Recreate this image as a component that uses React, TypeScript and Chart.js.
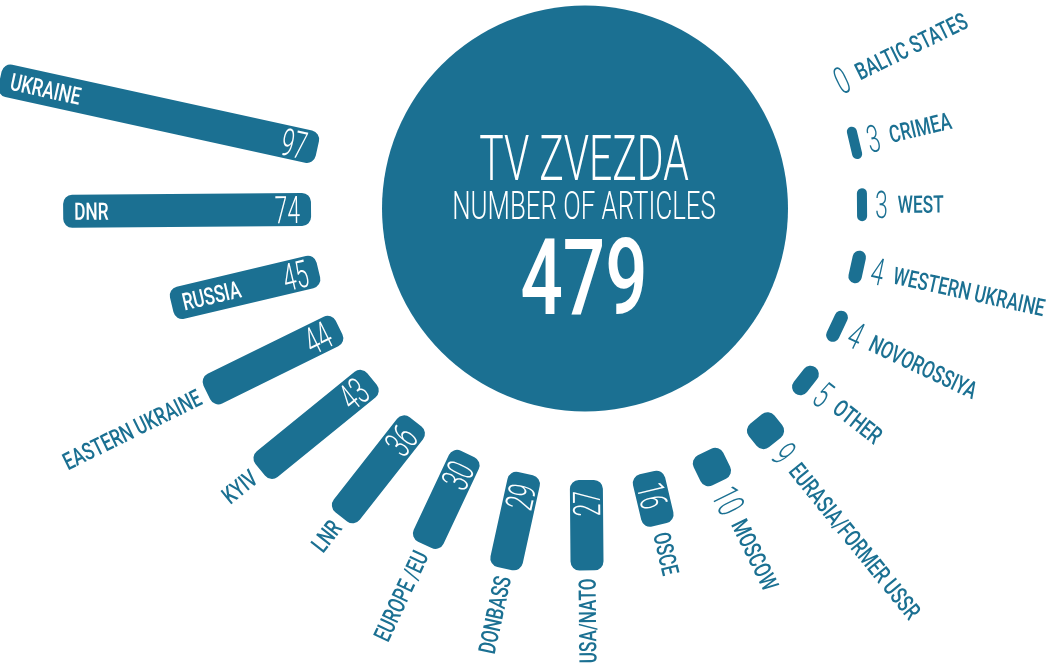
import { useEffect, useRef } from 'react';
import { Chart, registerables } from 'chart.js';

Chart.register(...registerables);

// Categories in clockwise order, starting at the top right of the picture
const categories = [
  'BALTIC STATES',
  'CRIMEA',
  'WEST',
  'WESTERN UKRAINE',
  'NOVOROSSIYA',
  'OTHER',
  'EURASIA/FORMER USSR',
  'MOSCOW',
  'OSCE',
  'USA/NATO',
  'DONBASS',
  'EUROPE /EU',
  'LNR',
  'KYIV',
  'EASTERN UKRAINE',
  'RUSSIA',
  'DNR',
  'UKRAINE',
];
const articleCounts = [0, 3, 3, 4, 4, 5, 9, 10, 16, 27, 29, 30, 36, 43, 44, 45, 74, 97];
const emptySlots = 10; // the open gap above the circle
const centerTitle = 'TV ZVEZDA';
const centerSubtitle = 'NUMBER OF ARTICLES';
const totalArticles = 479;
const labelInsideMin = 45; // bars this long carry their name inside

// radial value axis: value 0 sits on the inner ring of bars
const axisMin = -81.5;
const axisMax = 103.6;
const startAngleDeg = 63.8;

// styles
const TEAL = '#1b7092';
const WHITE = '#ffffff';
const CANVAS_SIZE = 1240;
const CENTER_X = 584;
const CENTER_Y = 207;
const BAR_THICKNESS = 33;
const CORNER = 9;
const CIRCLE_RADIUS = 203;
const CIRCLE_DX = 1;
const CIRCLE_DY = 1.5;
const TEXT_DX = 0;
const PAD = 11;
const GAP = 8;
const NUM_GAP = 10;
const FAMILY = 'Roboto, "DejaVu Sans", sans-serif';

type FontSpec = { size: number; weight: number; stretch: number };
const numFont: FontSpec = { size: 38, weight: 300, stretch: 0.6 };
const labelFont: FontSpec = { size: 24, weight: 500, stretch: 0.72 };
const titleFont: FontSpec = { size: 63, weight: 300, stretch: 0.65 };
const subtitleFont: FontSpec = { size: 38, weight: 300, stretch: 0.68 };
const totalFont: FontSpec = { size: 105, weight: 500, stretch: 0.71 };

const CAP = 0.711;

function textWidth(ctx: CanvasRenderingContext2D, text: string, f: FontSpec) {
  ctx.save();
  ctx.font = `${f.weight} ${f.size}px ${FAMILY}`;
  const w = ctx.measureText(text).width * f.stretch;
  ctx.restore();
  return w;
}

function drawText(
  ctx: CanvasRenderingContext2D,
  text: string,
  x: number,
  f: FontSpec,
  align: CanvasTextAlign,
  color: string,
  baselineY?: number
) {
  ctx.save();
  const y = baselineY === undefined ? (f.size * CAP) / 2 : baselineY;
  ctx.translate(x, y);
  ctx.scale(f.stretch, 1);
  ctx.font = `${f.weight} ${f.size}px ${FAMILY}`;
  ctx.textAlign = align;
  ctx.textBaseline = 'alphabetic';
  ctx.fillStyle = color;
  ctx.fillText(text, 0, 0);
  ctx.restore();
}

const radialBars = {
  id: 'radialBars',
  afterDatasetsDraw(chart: any) {
    const ctx: CanvasRenderingContext2D = chart.ctx;
    const scale = chart.scales.r;
    const cx = scale.xCenter;
    const cy = scale.yCenter;
    const base = scale.getDistanceFromCenterForValue(0);

    ctx.save();
    // central disc
    ctx.fillStyle = TEAL;
    ctx.beginPath();
    ctx.arc(cx + CIRCLE_DX, cy + CIRCLE_DY, CIRCLE_RADIUS, 0, Math.PI * 2);
    ctx.fill();
    ctx.translate(cx + TEXT_DX, cy);
    drawText(ctx, centerTitle, 0, titleFont, 'center', WHITE, -27);
    drawText(ctx, centerSubtitle, 0, subtitleFont, 'center', WHITE, 12);
    drawText(ctx, String(totalArticles), 0, totalFont, 'center', WHITE, 107);
    ctx.restore();

    const labels: string[] = chart.data.labels;
    const data: (number | null)[] = chart.data.datasets[0].data;
    data.forEach((v, i) => {
      if (v === null || v === undefined) return;
      const end = scale.getDistanceFromCenterForValue(v);
      const pos = scale.getPointPosition(i, base);
      const angle = pos.angle;
      const len = end - base;
      const label = labels[i];
      const num = String(v);

      ctx.save();
      ctx.translate(cx, cy);
      ctx.rotate(angle);
      ctx.fillStyle = TEAL;
      if (len > 0) {
        ctx.beginPath();
        ctx.roundRect(base, -BAR_THICKNESS / 2, len, BAR_THICKNESS, Math.min(CORNER, len / 2));
        ctx.fill();
      }
      const numW = textWidth(ctx, num, numFont);
      const numInside = numW + 2 * PAD <= len;
      const labelInside = numInside && v >= labelInsideMin;
      // bars pointing (nearly) straight down or to the left read toward the centre
      const flip = Math.cos(angle) < 0.1;

      if (!flip) {
        if (numInside) {
          drawText(ctx, num, base + PAD, numFont, 'left', WHITE);
          if (labelInside) drawText(ctx, label, end - PAD, labelFont, 'right', WHITE);
          else drawText(ctx, label, end + GAP, labelFont, 'left', TEAL);
        } else {
          drawText(ctx, num, end + GAP, numFont, 'left', TEAL);
          drawText(ctx, label, end + GAP + numW + NUM_GAP, labelFont, 'left', TEAL);
        }
      } else {
        ctx.rotate(Math.PI);
        if (numInside) {
          drawText(ctx, num, -(base + PAD), numFont, 'right', WHITE);
          if (labelInside) drawText(ctx, label, -(end - PAD), labelFont, 'left', WHITE);
          else drawText(ctx, label, -(end + GAP), labelFont, 'right', TEAL);
        } else {
          drawText(ctx, num, -(end + GAP), numFont, 'right', TEAL);
          drawText(ctx, label, -(end + GAP + numW + NUM_GAP), labelFont, 'right', TEAL);
        }
      }
      ctx.restore();
    });
  },
};

export default function App() {
  const canvasRef = useRef<HTMLCanvasElement | null>(null);

  useEffect(() => {
    const canvas = canvasRef.current;
    if (!canvas) return;
    const labels = categories.concat(Array(emptySlots).fill(''));
    const values: (number | null)[] = (articleCounts as (number | null)[]).concat(
      Array(emptySlots).fill(null)
    );
    const chart = new Chart(canvas, {
      type: 'radar',
      data: {
        labels,
        datasets: [
          {
            data: values,
            showLine: false,
            pointRadius: 0,
            pointHoverRadius: 0,
            borderWidth: 0,
            backgroundColor: 'rgba(0,0,0,0)',
            borderColor: 'rgba(0,0,0,0)',
          },
        ],
      },
      options: {
        responsive: false,
        animation: false,
        events: [],
        layout: { padding: 0 },
        plugins: {
          legend: { display: false },
          tooltip: { enabled: false },
          title: { display: false },
        },
        scales: {
          r: {
            min: axisMin,
            max: axisMax,
            startAngle: startAngleDeg,
            grid: { display: false },
            angleLines: { display: false },
            pointLabels: { display: false },
            ticks: { display: false },
          },
        },
      },
      plugins: [radialBars],
    });
    return () => chart.destroy();
  }, []);

  return (
    <div
      style={{
        position: 'fixed',
        left: 0,
        top: 0,
        width: 1051,
        height: 670,
        overflow: 'hidden',
        background: '#ffffff',
      }}
    >
      <canvas
        ref={canvasRef}
        width={CANVAS_SIZE}
        height={CANVAS_SIZE}
        style={{
          position: 'absolute',
          left: CENTER_X - CANVAS_SIZE / 2,
          top: CENTER_Y - CANVAS_SIZE / 2,
        }}
      />
    </div>
  );
}
